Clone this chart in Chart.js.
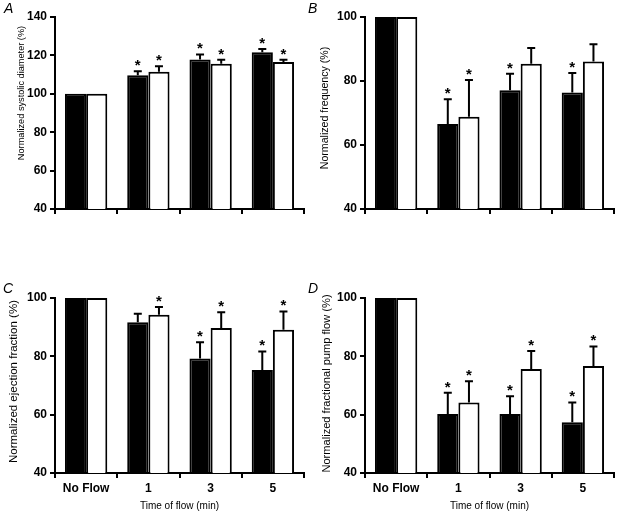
<!DOCTYPE html>
<html>
<head>
<meta charset="utf-8">
<script src="https://cdn.jsdelivr.net/npm/chart.js@4"></script>
<style>
  body { margin: 0; background: #fff; }
  #wrap { position: relative; width: 624px; height: 515px; overflow: hidden; }
  .panel { position: absolute; }
  .letter { position: absolute; font: italic 14px 'Liberation Sans', Arial, sans-serif; color: #000; line-height: 14px; }
</style>
</head>
<body>
<div id="wrap">
  <div class="panel" style="left:0;top:0;width:312px;height:230px"><canvas id="chartA"></canvas></div>
  <div class="panel" style="left:310px;top:0;width:312px;height:230px"><canvas id="chartB"></canvas></div>
  <div class="panel" style="left:0;top:270px;width:312px;height:245px"><canvas id="chartC"></canvas></div>
  <div class="panel" style="left:310px;top:270px;width:312px;height:245px"><canvas id="chartD"></canvas></div>
  <div class="letter" style="left:4px;top:1px">A</div>
  <div class="letter" style="left:308px;top:1px">B</div>
  <div class="letter" style="left:3px;top:281px">C</div>
  <div class="letter" style="left:308px;top:281px">D</div>
</div>
<script>
const categories = ['No Flow', '1', '3', '5'];

// A - systolic diameter
const diamBlack = [100, 109.6, 117.9, 121.7];
const diamBlackSem = [0, 2.1, 2.6, 1.6];
const diamBlackStar = [0, 1, 1, 1];
const diamWhite = [100, 111.5, 115.7, 116.5];
const diamWhiteSem = [0, 2.9, 2.0, 1.2];
const diamWhiteStar = [0, 1, 1, 1];

// B - frequency
const freqBlack = [100, 66.6, 77.1, 76.4];
const freqBlackSem = [0, 7.7, 5.2, 6.1];
const freqBlackStar = [0, 1, 1, 1];
const freqWhite = [100, 68.8, 85.4, 86.1];
const freqWhiteSem = [0, 11.5, 4.9, 5.4];
const freqWhiteStar = [0, 1, 0, 0];

// C - ejection fraction
const ejBlack = [100, 91.7, 79.3, 75.3];
const ejBlackSem = [0, 2.9, 5.5, 6.4];
const ejBlackStar = [0, 0, 1, 1];
const ejWhite = [100, 94.3, 89.7, 89.1];
const ejWhiteSem = [0, 2.6, 5.4, 6.3];
const ejWhiteStar = [0, 1, 1, 1];

// D - fractional pump flow
const pumpBlack = [100, 60.2, 60.2, 57.4];
const pumpBlackSem = [0, 7.3, 6.1, 6.8];
const pumpBlackStar = [0, 1, 1, 1];
const pumpWhite = [100, 64.2, 75.7, 76.7];
const pumpWhiteSem = [0, 7.3, 6.1, 6.7];
const pumpWhiteStar = [0, 1, 1, 1];

const FONT = "'Liberation Sans', Arial, sans-serif";

// error bars (upwards only) and significance stars
const errBars = {
  id: 'errBars',
  afterDatasetsDraw(chart) {
    const ctx = chart.ctx;
    const y = chart.scales.y;
    ctx.save();
    chart.data.datasets.forEach((ds, di) => {
      const meta = chart.getDatasetMeta(di);
      meta.data.forEach((bar, i) => {
        let top = bar.y;
        if (ds.sem[i] > 0) {
          top = y.getPixelForValue(ds.data[i] + ds.sem[i]);
          ctx.strokeStyle = '#000';
          ctx.lineWidth = 2;
          ctx.beginPath();
          ctx.moveTo(bar.x, bar.y);
          ctx.lineTo(bar.x, top);
          ctx.moveTo(bar.x - 4, top);
          ctx.lineTo(bar.x + 4, top);
          ctx.stroke();
        }
        if (ds.stars[i]) {
          ctx.fillStyle = '#000';
          ctx.font = 'bold 15px ' + FONT;
          ctx.textAlign = 'center';
          ctx.textBaseline = 'alphabetic';
          ctx.fillText('*', bar.x, top - 1);
        }
      });
    });
    ctx.restore();
  }
};

// rotated y-axis title, drawn beside the axis
const yTitle = {
  id: 'yTitle',
  afterDraw(chart, args, opts) {
    const ctx = chart.ctx;
    const area = chart.chartArea;
    ctx.save();
    ctx.translate(opts.x, (area.top + area.bottom) / 2 + opts.shift);
    ctx.rotate(-Math.PI / 2);
    ctx.fillStyle = '#000';
    ctx.font = opts.size + 'px ' + FONT;
    ctx.textAlign = 'center';
    ctx.textBaseline = 'middle';
    ctx.fillText(opts.text, 0, 0);
    ctx.restore();
  }
};

function makeChart(id, title, black, blackSem, blackStar, white, whiteSem, whiteStar, yMax, bottom) {
  const ctx = document.querySelector(id).getContext('2d');
  return new Chart(ctx, {
    type: 'bar',
    data: {
      labels: categories,
      datasets: [
        {
          data: black, sem: blackSem, stars: blackStar,
          backgroundColor: '#000', borderColor: '#000', borderWidth: 2,
          borderSkipped: false
        },
        {
          data: white, sem: whiteSem, stars: whiteStar,
          backgroundColor: '#fff', borderColor: '#000', borderWidth: 2,
          borderSkipped: false
        }
      ]
    },
    options: {
      responsive: true,
      maintainAspectRatio: false,
      animation: false,
      events: [],
      categoryPercentage: 0.68,
      barPercentage: 1.0,
      layout: { padding: { top: bottom ? 28 : 17, right: 8, left: 0, bottom: 0 } },
      plugins: {
        legend: { display: false },
        tooltip: { enabled: false },
        yTitle: title
      },
      scales: {
        x: {
          grid: { drawOnChartArea: false, color: '#000', lineWidth: 2, tickLength: 5, offset: true },
          border: { color: '#000', width: 2 },
          ticks: {
            display: bottom,
            color: '#000',
            padding: 3,
            font: { family: FONT, size: 12, weight: 'bold' }
          },
          title: {
            display: bottom,
            text: 'Time of flow (min)',
            color: '#000',
            padding: { top: 0, bottom: 3 },
            font: { family: FONT, size: 10 }
          },
          afterFit(scale) { scale.height = bottom ? 42 : 21; }
        },
        y: {
          min: 40,
          max: yMax,
          grid: { drawOnChartArea: false, color: '#000', lineWidth: 2, tickLength: 5 },
          border: { color: '#000', width: 2 },
          ticks: {
            stepSize: 20,
            color: '#000',
            padding: 3,
            font: { family: FONT, size: 12, weight: 'bold' }
          },
          afterFit(scale) { scale.width = 55; }
        }
      }
    },
    plugins: [errBars, yTitle]
  });
}

makeChart('#chartA', { text: 'Normalized systolic diameter (%)', size: 9.2, x: 21, shift: -20 },
  diamBlack, diamBlackSem, diamBlackStar, diamWhite, diamWhiteSem, diamWhiteStar, 140, false);
makeChart('#chartB', { text: 'Normalized frequency (%)', size: 10.6, x: 15, shift: -5 },
  freqBlack, freqBlackSem, freqBlackStar, freqWhite, freqWhiteSem, freqWhiteStar, 100, false);
makeChart('#chartC', { text: 'Normalized ejection fraction (%)', size: 11.5, x: 14, shift: -4 },
  ejBlack, ejBlackSem, ejBlackStar, ejWhite, ejWhiteSem, ejWhiteStar, 100, true);
makeChart('#chartD', { text: 'Normalized fractional pump flow (%)', size: 11.1, x: 17, shift: -2 },
  pumpBlack, pumpBlackSem, pumpBlackStar, pumpWhite, pumpWhiteSem, pumpWhiteStar, 100, true);
</script>
</body>
</html>
